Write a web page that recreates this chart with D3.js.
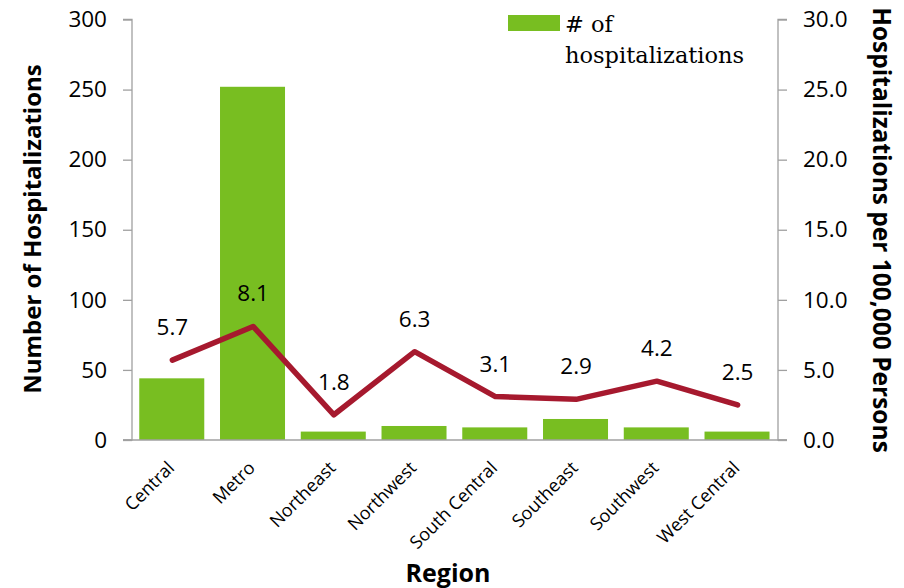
<!DOCTYPE html>
<html>
<head>
<meta charset="utf-8">
<script src="https://cdn.jsdelivr.net/npm/d3@7"></script>
<style>
  html, body { margin: 0; padding: 0; background: #fff; }
  svg { display: block; }
</style>
</head>
<body>
<svg id="chart" width="904" height="588"></svg>
<script>
// Hospitalizations by region: counts (bars, left axis) and rate per 100,000 (line, right axis)
const regions = ["Central", "Metro", "Northeast", "Northwest", "South Central", "Southeast", "Southwest", "West Central"];
const hospitalizations = [44, 252, 6, 10, 9, 15, 9, 6];
const ratePer100k = [5.7, 8.1, 1.8, 6.3, 3.1, 2.9, 4.2, 2.5];
const countTicks = [0, 50, 100, 150, 200, 250, 300];
const rateTicks = [0, 5, 10, 15, 20, 25, 30];

const svg = d3.select("#chart");
const plot = { left: 132, right: 778, top: 19.5, bottom: 440 };

const sans = "'Open Sans', 'Noto Sans', sans-serif";
const axisGrey = "#a0a0a0";
const barGreen = "#78be21";
const lineRed = "#a6192e";

const x = d3.scaleBand().domain(regions).range([plot.left, plot.right]).paddingInner(0).paddingOuter(0);
const yCount = d3.scaleLinear().domain([0, 300]).range([plot.bottom, plot.top]);
const yRate = d3.scaleLinear().domain([0, 30]).range([plot.bottom, plot.top]);

// Bars
const step = x.step();
svg.append("g").selectAll("rect")
  .data(regions.map((r, i) => ({ region: r, value: hospitalizations[i] })))
  .join("rect")
  .attr("x", d => x(d.region) + step * 0.09)
  .attr("width", step * 0.805)
  .attr("y", d => yCount(d.value))
  .attr("height", d => yCount(0) - yCount(d.value))
  .attr("fill", barGreen);

// Left axis
const leftAxis = svg.append("g")
  .attr("transform", `translate(${plot.left},0)`)
  .call(d3.axisLeft(yCount).tickValues(countTicks).tickSize(9).tickPadding(16).tickFormat(d3.format("d")));
leftAxis.select(".domain").attr("stroke", axisGrey).attr("stroke-width", 1.3).attr("d", `M-9,${plot.top}H0V${plot.bottom}H-9`);
leftAxis.selectAll(".tick line").attr("stroke", axisGrey).attr("stroke-width", 1.3);
leftAxis.selectAll(".tick text").attr("font-family", sans).attr("font-size", 22.5).attr("fill", "#000");

// Right axis
const rightAxis = svg.append("g")
  .attr("transform", `translate(${plot.right},0)`)
  .call(d3.axisRight(yRate).tickValues(rateTicks).tickSize(9).tickPadding(16).tickFormat(d3.format(".1f")));
rightAxis.select(".domain").attr("stroke", axisGrey).attr("stroke-width", 1.3).attr("d", `M9,${plot.top}H0V${plot.bottom}H9`);
rightAxis.selectAll(".tick line").attr("stroke", axisGrey).attr("stroke-width", 1.3);
rightAxis.selectAll(".tick text").attr("font-family", sans).attr("font-size", 22.5).attr("fill", "#000");

// Category axis line along zero
svg.append("line")
  .attr("x1", plot.left - 9).attr("x2", plot.right + 9)
  .attr("y1", yCount(0)).attr("y2", yCount(0))
  .attr("stroke", axisGrey).attr("stroke-width", 1.3);

// Category labels, rotated
svg.append("g").selectAll("text")
  .data(regions)
  .join("text")
  .attr("transform", d => `translate(${x(d) + step / 2 + 3},${plot.bottom + 29}) rotate(-45)`)
  .attr("text-anchor", "end")
  .attr("font-family", sans)
  .attr("font-size", 18)
  .attr("fill", "#000")
  .text(d => d);

// Rate line
const ratePts = regions.map((r, i) => ({ region: r, value: ratePer100k[i] }));
svg.append("path")
  .datum(ratePts)
  .attr("fill", "none")
  .attr("stroke", lineRed)
  .attr("stroke-width", 5.5)
  .attr("stroke-linejoin", "round")
  .attr("stroke-linecap", "round")
  .attr("d", d3.line().x(d => x(d.region) + step / 2).y(d => yRate(d.value)));

// Rate labels
svg.append("g").selectAll("text")
  .data(ratePts)
  .join("text")
  .attr("x", d => x(d.region) + step / 2)
  .attr("y", d => yRate(d.value) - 25)
  .attr("text-anchor", "middle")
  .attr("font-family", sans)
  .attr("font-size", 22.5)
  .attr("fill", "#000")
  .text(d => d3.format(".1f")(d.value));

// Axis titles
svg.append("text")
  .attr("transform", `translate(41,229) rotate(-90)`)
  .attr("text-anchor", "middle")
  .attr("font-family", sans).attr("font-weight", "bold").attr("font-size", 24)
  .text("Number of Hospitalizations");

svg.append("text")
  .attr("transform", `translate(873,230) rotate(90)`)
  .attr("text-anchor", "middle")
  .attr("font-family", sans).attr("font-weight", "bold").attr("font-size", 24.5)
  .text("Hospitalizations per 100,000 Persons");

svg.append("text")
  .attr("x", 448).attr("y", 582)
  .attr("text-anchor", "middle")
  .attr("font-family", sans).attr("font-weight", "bold").attr("font-size", 25)
  .text("Region");

// Legend
const legend = svg.append("g");
legend.append("rect").attr("x", 508).attr("y", 15).attr("width", 52).attr("height", 16).attr("fill", barGreen);
legend.append("text")
  .attr("x", 565).attr("y", 32)
  .attr("font-family", "'DejaVu Serif', serif").attr("font-size", 22.5)
  .selectAll("tspan")
  .data(["# of", "hospitalizations"])
  .join("tspan")
  .attr("x", 565)
  .attr("dy", (d, i) => i === 0 ? 0 : 31)
  .text(d => d);
</script>
</body>
</html>
